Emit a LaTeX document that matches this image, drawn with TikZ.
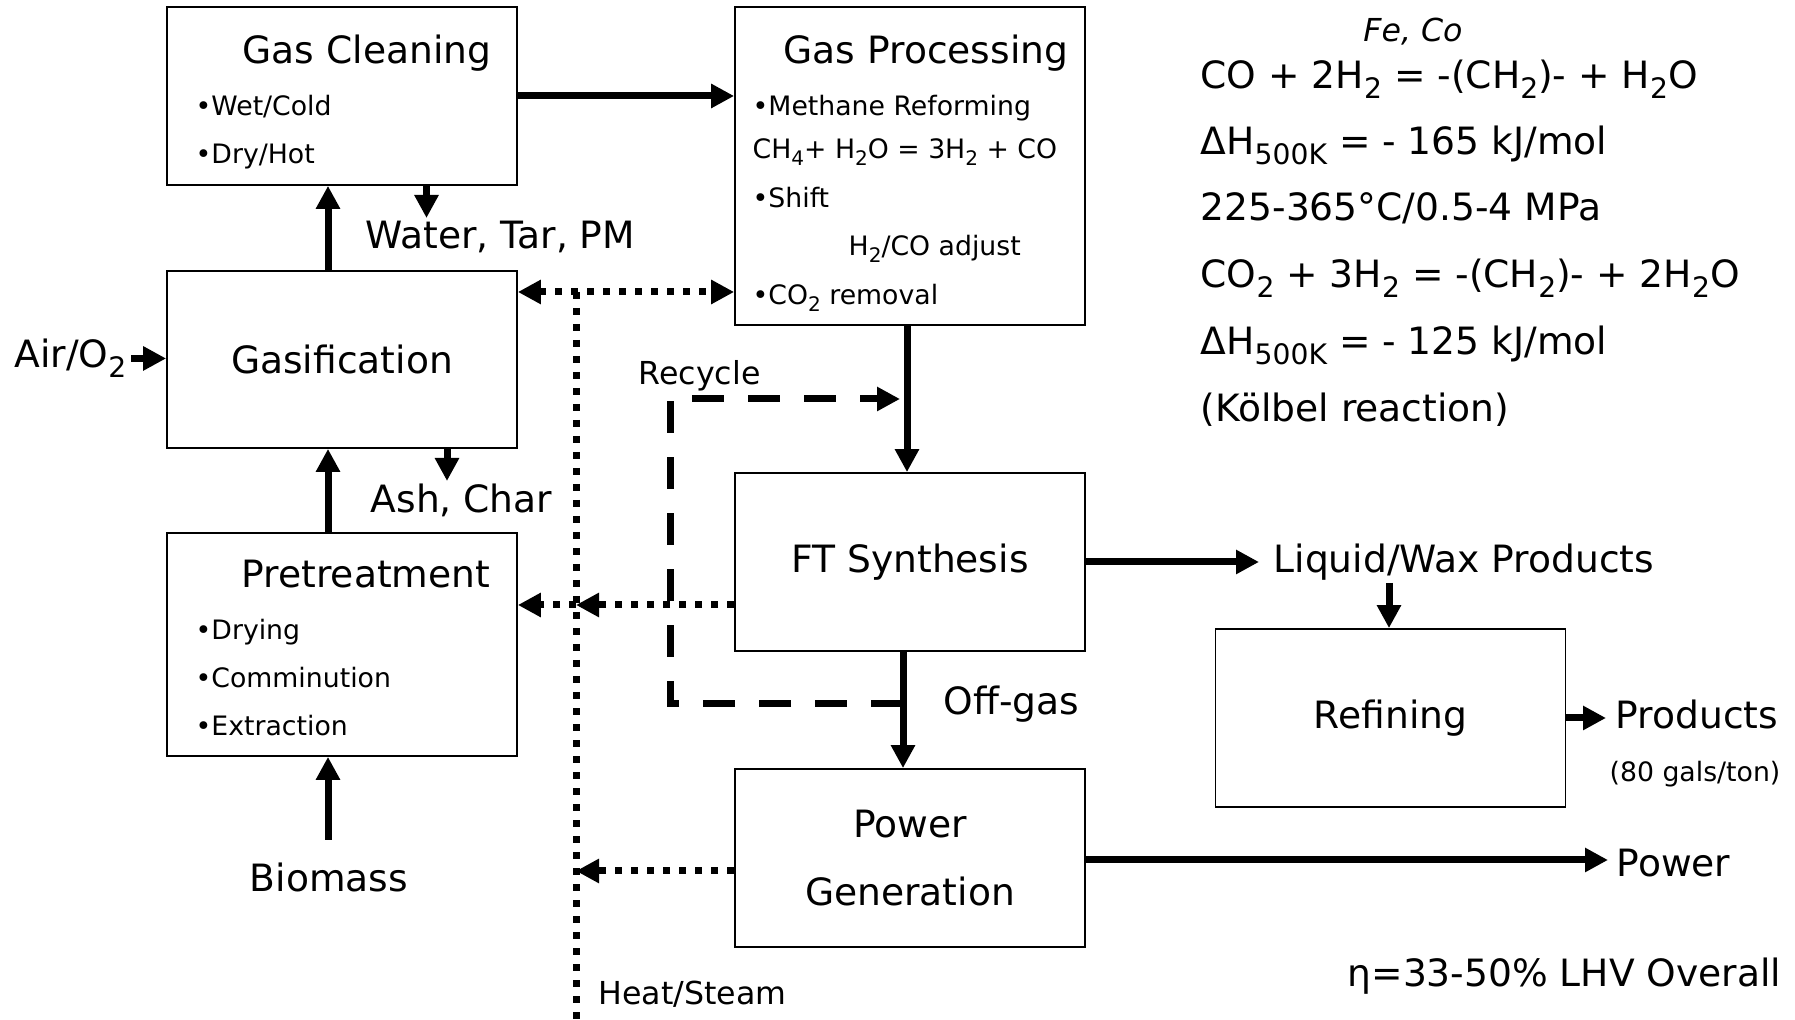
\documentclass[tikz,border=0pt]{standalone}
\usepackage{fontspec}
\setmainfont{DejaVu Sans}
\usepackage{xcolor}
\usepackage{graphicx}
\usetikzlibrary{arrows.meta,positioning,calc}

\newcommand{\bigtxt}{\fontsize{10.7}{19.4}\selectfont}
\newcommand{\midtxt}{\fontsize{9}{11}\selectfont}
\newcommand{\smalltxt}{\fontsize{7.6}{9}\selectfont}
\newcommand{\lowsub}[1]{\raisebox{-0.5ex}{\scalebox{0.75}{#1}}}

\begin{document}
\begin{tikzpicture}[
  font=\bigtxt,
  >={Triangle[length=0.23cm, width=0.23cm]},
  unit/.style={draw, line width=0.5pt, minimum width=3.5cm, minimum height=1.77cm, inner sep=0pt, align=center},
  flow/.style={->, line width=0.07cm},
  heat/.style={line width=0.07cm, dash pattern=on 0.07cm off 0.09cm},
  recyc/.style={->, line width=0.07cm, dash pattern=on 0.32cm off 0.24cm},
  bullet/.style={font=\smalltxt, anchor=mid west, inner sep=0pt},
  eqn/.style={anchor=mid west, inner sep=0pt}
]
\useasboundingbox (0,0) rectangle (17.95,-10.20);

% Process units
\node[unit, minimum height=1.78cm] (clean) at (3.42,-0.96) {};
\node[unit, minimum height=3.18cm] (proc) at (9.10,-1.66) {};
\node[unit] (gasif) at (3.42,-3.595) {Gasification};
\node[unit, minimum height=2.23cm] (pretr) at (3.42,-6.445) {};
\node[unit, minimum height=1.78cm] (ftsyn) at (9.10,-5.62) {FT Synthesis};
\node[unit, minimum height=1.78cm] (power) at (9.10,-8.58) {Power\\Generation};
\node[unit, minimum height=1.78cm] (refin) at (13.905,-7.18) {Refining};

% Unit headings and bullets
\node[anchor=mid] (cleanHead) at (3.67,-0.54) {Gas Cleaning};
\node[bullet] (cleanWet) at (1.95,-1.06) {•Wet/Cold};
\node[bullet] (cleanDry) at (1.95,-1.54) {•Dry/Hot};

\node[anchor=mid] (procHead) at (9.26,-0.54) {Gas Processing};
\node[bullet] (procRef) at (7.52,-1.06) {•Methane Reforming};
\node[bullet] (procEq) at (7.52,-1.49) {CH\lowsub{4}+ H\lowsub{2}O = 3H\lowsub{2} + CO};
\node[bullet] (procShift) at (7.52,-1.98) {•Shift};
\node[bullet] (procAdj) at (8.48,-2.46) {H\lowsub{2}/CO adjust};
\node[bullet] (procCO) at (7.52,-2.95) {•CO\lowsub{2} removal};

\node[anchor=mid] (pretrHead) at (3.66,-5.78) {Pretreatment};
\node[bullet] (pretrDry) at (1.95,-6.30) {•Drying};
\node[bullet] (pretrCom) at (1.95,-6.78) {•Comminution};
\node[bullet] (pretrExt) at (1.95,-7.26) {•Extraction};

% Streams
\node[anchor=mid west, inner sep=0pt] (wtp) at (3.65,-2.39) {Water, Tar, PM};
\node[anchor=mid west, inner sep=0pt] (ash) at (3.70,-5.03) {Ash, Char};
\node[anchor=mid east, inner xsep=0.04cm] (air) at (1.31,-3.58) {Air/O\lowsub{2}};
\node[anchor=mid] (biomass) at (3.29,-8.82) {Biomass};
\node[anchor=mid west, inner sep=0pt, font=\midtxt] (recLbl) at (6.38,-3.75) {Recycle};
\node[anchor=mid west, inner sep=0pt, font=\midtxt] (heatLbl) at (5.98,-9.945) {Heat/Steam};
\node[anchor=mid west, inner sep=0pt] (offLbl) at (9.43,-7.05) {Off-gas};
\node[anchor=mid west, inner xsep=0.14cm] (liqwax) at (12.59,-5.63) {Liquid/Wax Products};
\node[anchor=mid west, inner xsep=0.09cm] (products) at (16.06,-7.19) {Products};
\node[anchor=mid, font=\smalltxt] (gals) at (16.95,-7.72) {(80 gals/ton)};
\node[anchor=mid west, inner xsep=0.08cm] (powerOut) at (16.08,-8.67) {Power};
\node[anchor=mid east, inner sep=0pt] (eta) at (17.82,-9.77) {η=33-50\% LHV Overall};

% Reaction notes
\node[anchor=mid, font=\midtxt\itshape] (cat) at (14.13,-0.32) {Fe, Co};
\node[eqn] (eqA) at (12.00,-0.79) {CO + 2H\lowsub{2} = -(CH\lowsub{2})- + H\lowsub{2}O};
\node[eqn] (dhA) at (12.00,-1.45) {ΔH\lowsub{500K} = - 165 kJ/mol};
\node[eqn] (cond) at (12.00,-2.11) {225-365°C/0.5-4 MPa};
\node[eqn] (eqB) at (12.00,-2.78) {CO\lowsub{2} + 3H\lowsub{2} = -(CH\lowsub{2})- + 2H\lowsub{2}O};
\node[eqn] (dhB) at (12.00,-3.45) {ΔH\lowsub{500K} = - 125 kJ/mol};
\node[eqn] (kolb) at (12.00,-4.12) {(Kölbel reaction)};

% Main flow
\coordinate (wtpTip) at (4.265,-2.18);
\coordinate (ashTip) at (4.47,-4.81);
\coordinate (bioTail) at (3.28,-8.40);
\coordinate (liqTail) at (13.89,-5.83);
\draw[flow] (clean.east) -- (clean.east -| proc.west);
\draw[flow] ([xshift=-0.14cm]gasif.north) -- ([xshift=-0.14cm]clean.south);
\draw[flow] (clean.south -| wtpTip) -- (wtpTip);
\draw[flow] (air.east) -- (air.east -| gasif.west);
\draw[flow] (gasif.south -| ashTip) -- (ashTip);
\draw[flow] ([xshift=-0.14cm]pretr.north) -- ([xshift=-0.14cm]gasif.south);
\draw[flow] (bioTail) -- (bioTail |- pretr.south);
\draw[flow] ([xshift=-0.03cm]proc.south) -- ([xshift=-0.03cm]ftsyn.north);
\draw[flow] ([xshift=-0.07cm]ftsyn.south) -- ([xshift=-0.07cm]power.north);
\draw[flow] (ftsyn.east) -- (ftsyn.east -| liqwax.west);
\draw[flow] (liqTail) -- (liqTail |- refin.north);
\draw[flow] (refin.east) -- (refin.east -| products.west);
\draw[flow] ([yshift=-0.02cm]power.east) -- ([yshift=-0.02cm]power.east -| powerOut.west);

% Recycle loop
\coordinate (offJoin) at (9.03,-7.04);
\coordinate (recCorner) at (6.70,-7.04);
\coordinate (recTip) at (9.00,-3.99);
\draw[recyc] (offJoin) -- (recCorner) |- (recTip);

% Heat/steam network
\coordinate (hsTop) at (5.76,-2.92);
\coordinate (hsBot) at (5.76,-10.20);
\coordinate (hsFT) at (5.76,-6.05);
\coordinate (hsPow) at (5.76,-8.71);
\draw[heat, <->] (gasif.east |- hsTop) -- (proc.west |- hsTop);
\draw[heat] (hsTop) -- (hsBot);
\draw[heat, ->] (ftsyn.west |- hsFT) -- (hsFT);
\draw[heat, ->] (hsFT) -- (pretr.east |- hsFT);
\draw[heat, ->] (power.west |- hsPow) -- (hsPow);

\end{tikzpicture}
\end{document}
